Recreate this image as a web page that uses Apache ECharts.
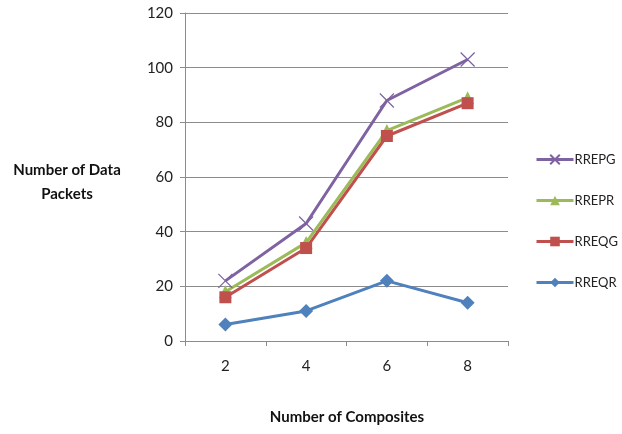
<!DOCTYPE html>
<html>
<head>
<meta charset="utf-8">
<script src="https://cdn.jsdelivr.net/npm/echarts@6/dist/echarts.min.js"></script>
<style>
  html, body { margin: 0; padding: 0; background: #fff; }
  #chart { width: 622px; height: 434px; }
</style>
</head>
<body>
<div id="chart"></div>
<script>
// Data packets per number of composites, one list per protocol
const categories = ['2', '4', '6', '8'];
const rrepg = [22, 43, 88, 103];
const rrepr = [18, 36, 77, 89];
const rreqg = [16, 34, 75, 87];
const rreqr = [6, 11, 22, 14];
const yTicks = { min: 0, max: 120, interval: 20 };

const FONT = 'Lato, "Open Sans", sans-serif';
const crossPath = 'path://M0,0 L10,10 M10,0 L0,10';

function line(name, data, color, symbol, size, extra) {
  return Object.assign({
    name: name,
    type: 'line',
    data: data,
    symbol: symbol,
    symbolSize: size,
    lineStyle: { color: color, width: 3 },
    itemStyle: { color: color },
    z: 2
  }, extra || {});
}

const chart = echarts.init(document.getElementById('chart'));
chart.setOption({
  animation: false,
  backgroundColor: '#ffffff',
  grid: { left: 185, right: 114, top: 13, bottom: 93 },
  legend: {
    orient: 'vertical',
    left: 530,
    top: 148,
    itemWidth: 37,
    itemHeight: 12,
    itemGap: 28,
    lineStyle: { width: 3 },
    textStyle: { fontFamily: FONT, fontSize: 13, color: '#222', padding: [0, 0, 0, -4] },
    data: ['RREPG', 'RREPR', 'RREQG', 'RREQR']
  },
  xAxis: {
    type: 'category',
    data: categories,
    boundaryGap: true,
    axisLine: { lineStyle: { color: '#8c8c8c', width: 1 } },
    axisTick: { show: true, length: 5, lineStyle: { color: '#8c8c8c' } },
    axisLabel: { fontFamily: FONT, fontSize: 15, color: '#222', margin: 18 }
  },
  yAxis: {
    type: 'value',
    min: yTicks.min,
    max: yTicks.max,
    interval: yTicks.interval,
    axisLine: { show: true, lineStyle: { color: '#8c8c8c', width: 1 } },
    axisTick: { show: true, length: 5, lineStyle: { color: '#8c8c8c' } },
    splitLine: { lineStyle: { color: '#8c8c8c', width: 1 } },
    axisLabel: { fontFamily: FONT, fontSize: 15, color: '#222', margin: 12 }
  },
  graphic: [
    {
      type: 'text',
      style: {
        text: 'Number of Data\nPackets', x: 67, y: 158,
        fontFamily: FONT, fontWeight: 'bold', fontSize: 15, fill: '#111',
        align: 'center', lineHeight: 24
      }
    },
    {
      type: 'text',
      style: {
        text: 'Number of Composites', x: 347, y: 410,
        fontFamily: FONT, fontWeight: 'bold', fontSize: 15, fill: '#111',
        align: 'center'
      }
    }
  ],
  series: [
    line('RREPG', rrepg, '#7e62a1', crossPath, 14, {
      itemStyle: { color: '#7e62a1', borderColor: '#7e62a1', borderWidth: 1.2 }
    }),
    line('RREPR', rrepr, '#9bbb59', 'triangle', 13),
    line('RREQG', rreqg, '#c0504d', 'rect', 12),
    line('RREQR', rreqr, '#4f81bd', 'diamond', 14)
  ]
});
</script>
</body>
</html>
